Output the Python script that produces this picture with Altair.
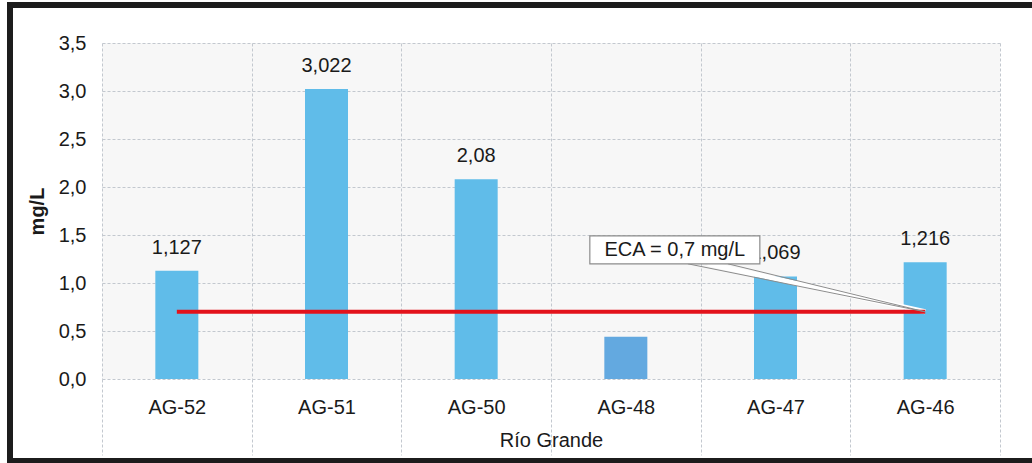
import altair as alt
import pandas as pd

# ---- data ----
stations = ["AG-52", "AG-51", "AG-50", "AG-48", "AG-47", "AG-46"]
values = [1.127, 3.022, 2.08, 0.44, 1.069, 1.216]
labels = ["1,127", "3,022", "2,08", "", "1,069", "1,216"]
bar_colors = ["#60bce9", "#60bce9", "#60bce9", "#63a9e0", "#60bce9", "#60bce9"]
y_ticks = [0, 0.5, 1.0, 1.5, 2.0, 2.5, 3.0, 3.5]
eca_value = 0.7
eca_text = "ECA = 0,7 mg/L"
x_title = "Río Grande"
y_title = "mg/L"

FONT = "Liberation Sans"
TXT = "#1a1a1a"
GRID = "#c3c8cf"
FRAME = "#1c1c1c"

df = pd.DataFrame({"station": stations, "value": values, "label": labels, "fill": bar_colors})

xscale = alt.Scale(domain=stations, paddingInner=0, paddingOuter=0)
yscale = alt.Scale(domain=[0, 3.5], nice=False, zero=True)

x_axis = alt.Axis(
    title=x_title, tickBand="extent", grid=True, gridDash=[3, 2], gridColor=GRID,
    ticks=True, tickSize=76, tickDash=[3, 2], tickColor=GRID, domain=False,
    labelAngle=0, labelFontSize=20, labelColor=TXT, labelPadding=-58, labelFont=FONT,
    titleFont=FONT, titleFontSize=20, titleFontWeight="normal", titleColor=TXT,
    titleY=61, titleBaseline="middle",
)
y_axis = alt.Axis(
    title=y_title, values=y_ticks,
    labelExpr="replace(format(datum.value, '.1f'), '.', ',')",
    grid=True, gridDash=[3, 2], gridColor=GRID, ticks=False, domain=False,
    labelFontSize=20, labelColor=TXT, labelPadding=16, labelFont=FONT,
    titleFont=FONT, titleFontSize=20, titleFontWeight="bold", titleColor=TXT,
    titleX=-65, titleY=168, titleAlign="center", titleBaseline="middle", titleAngle=270,
)

X = alt.X("station:N", scale=xscale, axis=x_axis, sort=stations)
Y = alt.Y("value:Q", scale=yscale, axis=y_axis)

bars = alt.Chart(df).mark_bar(width=43).encode(
    x=X, y=Y, color=alt.Color("fill:N", scale=None)
)
bar_text = alt.Chart(df).mark_text(fontSize=20, font=FONT, dy=-23, color=TXT).encode(
    x=X, y=Y, text="label:N"
)

eca_df = pd.DataFrame({"station": [stations[0]], "station_end": [stations[-1]], "value": [eca_value]})
eca_line = alt.Chart(eca_df).mark_rule(color="#e3121b", strokeWidth=4).encode(
    x=X, x2="station_end:N", y=Y
)

# callout pointer (from box bottom to end of ECA line)
ptr_df = pd.DataFrame({"station": ["AG-48"], "station_end": ["AG-46"], "value": [1.2], "value_end": [eca_value]})
ptr_fill = alt.Chart(ptr_df).mark_rule(color="white", strokeWidth=5, xOffset=82).encode(
    x=X, x2="station_end:N", y=Y, y2="value_end:Q"
)
ptr_a = alt.Chart(ptr_df).mark_rule(color="#8c8c8c", strokeWidth=1, xOffset=62).encode(
    x=X, x2="station_end:N", y=Y, y2="value_end:Q"
)
ptr_b = alt.Chart(ptr_df).mark_rule(color="#8c8c8c", strokeWidth=1, xOffset=102).encode(
    x=X, x2="station_end:N", y=Y, y2="value_end:Q"
)

box_df = pd.DataFrame({"station": ["AG-48"], "value": [1.49], "value_end": [1.2]})
box = alt.Chart(box_df).mark_bar(width=170, xOffset=49, fill="white", stroke="#8c8c8c", strokeWidth=1.2).encode(
    x=X, y=Y, y2="value_end:Q"
)
box_txt_df = pd.DataFrame({"station": ["AG-48"], "value": [1.345], "text": [eca_text]})
box_text = alt.Chart(box_txt_df).mark_text(fontSize=20, font=FONT, dx=49, color=TXT).encode(
    x=X, y=Y, text="text:N"
)

# outer frame: left, top and bottom edges only (right edge lies outside the picture)
one = pd.DataFrame({"k": [0]})
frame_left = alt.Chart(one).mark_rule(color=FRAME, strokeWidth=6).encode(
    x=alt.value(-92), y=alt.value(-41), y2=alt.value(421))
frame_top = alt.Chart(one).mark_rule(color=FRAME, strokeWidth=6).encode(
    x=alt.value(-95), x2=alt.value(940), y=alt.value(-38))
frame_bottom = alt.Chart(one).mark_rule(color=FRAME, strokeWidth=6).encode(
    x=alt.value(-95), x2=alt.value(940), y=alt.value(418))

chart = alt.layer(
    bars, bar_text, ptr_fill, eca_line, ptr_a, ptr_b, box, box_text,
    frame_left, frame_top, frame_bottom
).properties(
    width=898, height=336,
    autosize=alt.AutoSizeParams(type="none"),
    padding={"left": 102, "top": 43, "right": 32, "bottom": 84},
    background="white",
).configure_view(fill="#f7f7f7", strokeWidth=0)

chart.save("out.html", embed_options={"renderer": "svg", "actions": False})
